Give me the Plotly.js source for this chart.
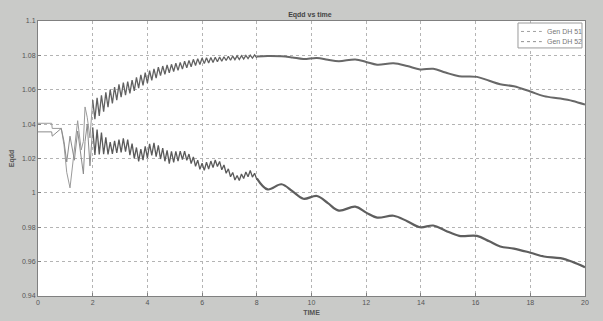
<!DOCTYPE html>
<html>
<head>
<meta charset="utf-8">
<script src="https://cdn.plot.ly/plotly-3.0.1.min.js"></script>
<style>
html,body{margin:0;padding:0;background:#c9cac8;}
#chart{width:603px;height:321px;}
</style>
</head>
<body>
<div id="chart"></div>
<script>
// ---- data ----
const seriesNames = ["Gen DH 51", "Gen DH 52"];
const xTickVals = [0, 2, 4, 6, 8, 10, 12, 14, 16, 18, 20];
const yTickVals = [0.94, 0.96, 0.98, 1.0, 1.02, 1.04, 1.06, 1.08, 1.1];
const yTickText = ["0.94", "0.96", "0.98", "1", "1.02", "1.04", "1.06", "1.08", "1.1"];

const timeEarly = [0, 0.5, 0.52, 0.85, 0.95, 1.05, 1.17, 1.33, 1.45, 1.58, 1.66, 1.72, 1.8, 1.9, 2.0];
const gen51Early = [1.0405, 1.0405, 1.0375, 1.0375, 1.028, 1.012, 1.0029, 1.026, 1.042, 1.025, 1.03, 1.05, 1.044, 1.032, 1.054];
const gen52Early = [1.0355, 1.0355, 1.033, 1.0375, 1.03, 1.018, 1.033, 1.019, 1.036, 1.02, 1.011, 1.03, 1.04, 1.0157, 1.038];

const timeOsc = [2.0, 2.08, 2.16, 2.24, 2.32, 2.40, 2.48, 2.56, 2.64, 2.72, 2.80, 2.88, 2.96, 3.04, 3.12, 3.20,
  3.28, 3.36, 3.44, 3.52, 3.60, 3.68, 3.76, 3.84, 3.92, 4.00, 4.08, 4.16, 4.24, 4.32, 4.40,
  4.48, 4.56, 4.64, 4.72, 4.80, 4.88, 4.96, 5.04, 5.12, 5.20, 5.28, 5.36, 5.44, 5.52, 5.60,
  5.68, 5.76, 5.84, 5.92, 6.00, 6.08, 6.16, 6.24, 6.32, 6.40, 6.48, 6.56, 6.64, 6.72, 6.80,
  6.88, 6.96, 7.04, 7.12, 7.20, 7.28, 7.36, 7.44, 7.52, 7.60, 7.68, 7.76, 7.84, 7.92, 8.00];
const gen51Osc = [1.054, 1.0429, 1.0553, 1.0448, 1.0568, 1.0472, 1.0585, 1.0498, 1.0601, 1.0521, 1.0616, 1.0540, 1.0631, 1.0557, 1.0641, 1.0568,
  1.0647, 1.0579, 1.0656, 1.0594, 1.0672, 1.0609, 1.0687, 1.0625, 1.0700, 1.0639, 1.0711, 1.0654, 1.0721, 1.0668, 1.0731,
  1.0682, 1.0738, 1.0690, 1.0744, 1.0698, 1.0748, 1.0706, 1.0754, 1.0713, 1.0759, 1.0720, 1.0766, 1.0728, 1.0771, 1.0734,
  1.0777, 1.0741, 1.0781, 1.0747, 1.0785, 1.0752, 1.0786, 1.0756, 1.0788, 1.0759, 1.0789, 1.0763, 1.0791, 1.0766, 1.0792,
  1.0770, 1.0795, 1.0772, 1.0796, 1.0775, 1.0797, 1.0776, 1.0798, 1.0779, 1.0800, 1.0781, 1.0801, 1.0784, 1.0803, 1.0786];
const gen52Osc = [1.038, 1.0221, 1.0368, 1.0224, 1.0351, 1.0225, 1.0323, 1.0224, 1.0295, 1.0227, 1.0302, 1.0232, 1.0310, 1.0235, 1.0317, 1.0240,
  1.0310, 1.0220, 1.0287, 1.0201, 1.0264, 1.0183, 1.0255, 1.0191, 1.0270, 1.0204, 1.0285, 1.0218, 1.0291, 1.0211, 1.0276,
  1.0197, 1.0261, 1.0184, 1.0247, 1.0170, 1.0241, 1.0177, 1.0241, 1.0185, 1.0243, 1.0193, 1.0243, 1.0189, 1.0226, 1.0171,
  1.0209, 1.0155, 1.0190, 1.0137, 1.0172, 1.0131, 1.0178, 1.0139, 1.0185, 1.0147, 1.0191, 1.0153, 1.0183, 1.0134, 1.0162,
  1.0114, 1.0140, 1.0094, 1.0119, 1.0075, 1.0101, 1.0072, 1.0110, 1.0084, 1.0121, 1.0094, 1.0130, 1.0092, 1.0114, 1.0077];

const timeTail = [8.0, 8.4, 8.9, 9.3, 9.7, 10.2, 10.6, 11.0, 11.6, 12.0, 12.4, 13.0, 13.5, 13.97, 14.45,
  14.9, 15.4, 16.05, 16.5, 16.9, 17.4, 18.0, 18.5, 19.1, 19.55, 20.0];
const gen51Tail = [1.0794, 1.0797, 1.0795, 1.0788, 1.0779, 1.0785, 1.0774, 1.0766, 1.0776, 1.0762, 1.0746, 1.0754, 1.0738, 1.0718, 1.0722,
  1.0700, 1.0679, 1.0675, 1.0652, 1.0632, 1.0620, 1.0590, 1.0563, 1.0549, 1.0535, 1.0514];
const gen52Tail = [1.0085, 1.0020, 1.0050, 1.0010, 0.9966, 0.9982, 0.9940, 0.9897, 0.9920, 0.9885, 0.9856, 0.9867, 0.9835, 0.9800, 0.9810,
  0.9780, 0.9750, 0.9750, 0.9718, 0.9688, 0.9676, 0.9652, 0.9630, 0.9620, 0.9598, 0.9568];

// ---- traces ----
const font = "Liberation Sans, Arial, sans-serif";
function tr(x, y, name, color, width, shape) {
  return {x: x, y: y, name: name, type: "scatter", mode: "lines", showlegend: false,
          line: {color: color, width: width, shape: shape || "linear"}};
}
const traces = [
  tr(timeEarly, gen51Early, seriesNames[0], "#9a9a9a", 1),
  tr(timeEarly, gen52Early, seriesNames[1], "#8c8c8c", 1),
  tr(timeOsc, gen51Osc, seriesNames[0], "#626262", 1.3),
  tr(timeOsc, gen52Osc, seriesNames[1], "#5a5a5a", 1.3),
  tr(timeTail, gen51Tail, seriesNames[0], "#686868", 2.0, "spline"),
  tr(timeTail, gen52Tail, seriesNames[1], "#5e5e5e", 2.2, "spline")
];

const axisCommon = {
  showgrid: true, gridcolor: "#b4b4b4", griddash: "dot", gridwidth: 1,
  showline: true, mirror: true, linecolor: "#808080", linewidth: 1,
  ticks: "inside", ticklen: 3, tickcolor: "#808080",
  zeroline: false, tickfont: {family: font, size: 7, color: "#555"}
};

// manual legend (compact MATLAB-style box)
const legShapes = [
  {type: "rect", xref: "paper", yref: "paper", x0: 0.8775, x1: 0.9945, y0: 0.902, y1: 0.9927,
   fillcolor: "#ffffff", line: {color: "#9a9a9a", width: 1}, layer: "above"},
  {type: "line", xref: "paper", yref: "paper", x0: 0.883, x1: 0.921, y0: 0.962, y1: 0.962,
   line: {color: "#a0a0a0", width: 1, dash: "dot"}, layer: "above"},
  {type: "line", xref: "paper", yref: "paper", x0: 0.883, x1: 0.921, y0: 0.925, y1: 0.925,
   line: {color: "#909090", width: 1, dash: "dot"}, layer: "above"}
];
const legAnn = seriesNames.map((n, i) => ({
  text: n, xref: "paper", yref: "paper", x: 0.926, y: i === 0 ? 0.962 : 0.925,
  xanchor: "left", yanchor: "middle", showarrow: false,
  font: {family: font, size: 7, color: "#777"}
}));

const layout = {
  width: 603, height: 321,
  paper_bgcolor: "#c9cac8", plot_bgcolor: "#ffffff",
  margin: {l: 38, r: 18, t: 21, b: 25},
  showlegend: false,
  title: {text: "<b>Eqdd vs time</b>", font: {family: font, size: 7, color: "#444"},
          x: 0.514, xanchor: "center", y: 0.956, yanchor: "middle", yref: "container"},
  xaxis: Object.assign({}, axisCommon, {
    range: [0, 20], tickvals: xTickVals, ticktext: xTickVals.map(String),
    title: {text: "<b>TIME</b>", font: {family: font, size: 7, color: "#555"}, standoff: 4}
  }),
  yaxis: Object.assign({}, axisCommon, {
    range: [0.94, 1.1], tickvals: yTickVals, ticktext: yTickText,
    title: {text: "<b>Eqdd</b>", font: {family: font, size: 7, color: "#555"}, standoff: 6}
  }),
  shapes: legShapes,
  annotations: legAnn
};

Plotly.newPlot("chart", traces, layout, {displayModeBar: false, staticPlot: true});
</script>
</body>
</html>
